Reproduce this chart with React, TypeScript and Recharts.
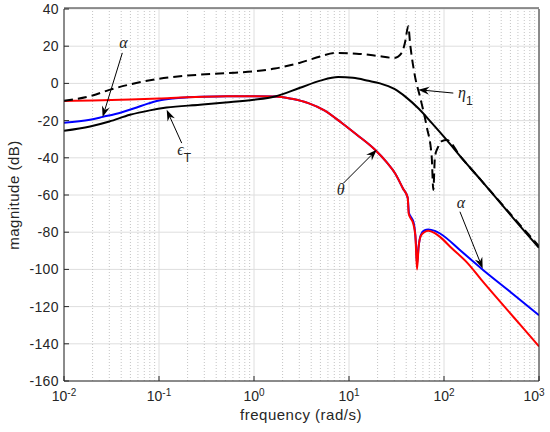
import React from "react"
import { LineChart, Line, XAxis, YAxis, CartesianGrid, ReferenceLine, ReferenceDot } from "recharts"

// frequency axis (rad/s) and magnitude axis (dB)
const xTicks = [0.01, 0.1, 1, 10, 100, 1000]
const yTicks = [-160, -140, -120, -100, -80, -60, -40, -20, 0, 20, 40]
const minorX = [0.01, 0.1, 1, 10, 100].flatMap((d) => [2, 3, 4, 5, 6, 7, 8, 9].map((k) => +(k * d).toPrecision(3)))

// theta (red)
const thetaFreq = [0.01, 0.02, 0.05, 0.1, 0.2, 0.4, 1, 1.66, 2.5, 3.73, 5.5, 8.4, 12, 18.8, 25, 30.5, 37, 41.5, 42.5, 44, 47.5, 50, 52, 54, 57, 62, 68.4, 80, 90.8, 120, 180, 249, 400, 650, 1000]
const thetaMag = [-9.4, -9.2, -8.7, -8.1, -7.4, -7.0, -6.9, -7.0, -8.3, -10.6, -14.5, -21.3, -27.5, -35.7, -42.5, -48.3, -56.5, -61.5, -70, -72, -75.5, -82, -100, -88, -82, -80, -79.2, -80.5, -82.5, -88.5, -97, -105.8, -118, -130.4, -141.4]

// alpha (blue)
const alphaFreq = [0.01, 0.0188, 0.0257, 0.04, 0.055, 0.075, 0.1, 0.14, 0.2, 0.4, 1, 1.66, 2.5, 3.73, 5.5, 8.4, 12, 18.8, 25, 30.5, 37, 41.5, 42.7, 44.5, 48, 50.5, 52, 54, 57, 62, 68.4, 80, 90.8, 150, 259.5, 500, 1000]
const alphaMag = [-21.2, -19.6, -18, -15.6, -13.4, -11, -9.2, -8.1, -7.5, -7.0, -6.9, -7.0, -8.3, -10.6, -14.5, -21.3, -27.5, -35.7, -42.5, -48.3, -56.5, -61.5, -69.5, -71.5, -75, -85, -97, -88, -81.5, -79, -78.5, -79.3, -80.7, -90, -100.4, -112.1, -124.7]

// epsilon_T (black solid)
const epsFreq = [0.01, 0.0188, 0.03, 0.0495, 0.08, 0.12, 0.27, 0.5, 1, 1.66, 3, 5, 7.7, 11, 16, 21.2, 30, 40, 54, 75, 106.6, 150, 240, 400, 558, 1000]
const epsMag = [-25.5, -23.2, -20.5, -16.9, -14.5, -13.0, -11.5, -10.3, -8.8, -7.0, -2.5, 1.5, 3.4, 3.0, 1.4, 0, -3, -7.5, -13.5, -21.5, -30.4, -39.5, -51.5, -64.8, -73.5, -88.4]

// eta_1 (black dashed)
const etaFreq = [0.01, 0.02, 0.03, 0.05, 0.1, 0.2, 0.5, 1, 1.66, 3, 5, 7.1, 12, 20, 30, 35.9, 38.8, 42.1, 43.9, 49.5, 55.8, 65.7, 74.2, 77.2, 80.3, 87, 95, 106.6, 150, 240, 400, 558, 1000]
const etaMag = [-9.3, -6.5, -3.5, -0.5, 2.5, 4.2, 5.5, 6.5, 8, 11, 14.5, 16.4, 16, 14.8, 13.7, 16.4, 21.8, 30.7, 21.8, 3.8, -7, -23.2, -39.4, -57.3, -39.4, -34, -31, -30.4, -39.5, -51.5, -64.5, -73, -87.5]

// annotation arrows: [fromFreq, fromMag, toFreq, toMag]
const arrows = [
  [0.0411, 16.4, 0.0255, -18.1],
  [0.1734, -32.1, 0.1205, -14.2],
  [8.71, -53.7, 19.6, -35.7],
  [125.3, -5.2, 53.6, -3.4],
  [147.2, -69, 255.3, -99.5],
]
// annotation labels: symbol, subscript, freq, mag
const labels: [string, string, number, number][] = [
  ["α", "", 0.0382, 19.1],
  ["ϵ", "T", 0.156, -38.4],
  ["θ", "", 7.41, -60],
  ["η", "1", 140.3, -7.7],
  ["α", "", 135.8, -67.2],
]

const toPoints = (f: number[], m: number[]) => f.map((x, i) => ({ x, y: m[i] }))

const axisColor = "#262626"
const sans = "'Liberation Sans', Arial, Helvetica, sans-serif"
const serif = "'Liberation Serif', 'Times New Roman', serif"

const XTick = (props: any) => {
  const { x, y, payload } = props
  const exp = Math.round(Math.log10(payload.value))
  return (
    <text x={x} y={y} dy={10} textAnchor="middle" fill={axisColor} fontSize={14} fontFamily={sans}>
      10
      <tspan dy={-5} fontSize={10}>
        {exp}
      </tspan>
    </text>
  )
}

const YTick = (props: any) => {
  const { x, y, payload } = props
  return (
    <text x={x} y={y} dy={5} textAnchor="end" fill={axisColor} fontSize={14} fontFamily={sans} letterSpacing={0.4}>
      {payload.value}
    </text>
  )
}

const ArrowShape = (props: any) => {
  const { x1, y1, x2, y2 } = props
  const a = Math.atan2(y2 - y1, x2 - x1)
  const c = Math.cos(a)
  const s = Math.sin(a)
  const L = 11
  const W = 4
  const N = 7.5
  const bx = x2 - L * c
  const by = y2 - L * s
  const nx = x2 - N * c
  const ny = y2 - N * s
  const pts = [
    [x2, y2],
    [bx - W * s, by + W * c],
    [nx, ny],
    [bx + W * s, by - W * c],
  ]
  return (
    <g>
      <line x1={x1} y1={y1} x2={nx} y2={ny} stroke="#000" strokeWidth={1} />
      <polygon points={pts.map((p) => p.join(",")).join(" ")} fill="#000" />
    </g>
  )
}

const makeLabel = (sym: string, sub: string) => (props: any) => {
  const { cx, cy } = props
  return (
    <text x={cx} y={cy} fill="#222" fontSize={16} fontFamily={serif} fontStyle="italic">
      {sym}
      {sub && (
        <tspan dy={7} fontSize={12} fontStyle="normal" fontFamily={sans}>
          {sub}
        </tspan>
      )}
    </text>
  )
}

export default function App() {
  return (
    <div style={{ position: "absolute", left: 0, top: 0, width: 550, height: 432, background: "#fff" }}>
      <LineChart width={550} height={432} margin={{ top: 7, right: 10, bottom: 49, left: 63 }}>
        <CartesianGrid stroke="#dedede" strokeWidth={1} />
        {minorX.map((v) => (
          <ReferenceLine key={v} x={v} stroke="#c4c4c4" strokeDasharray="1 2" />
        ))}
        <XAxis
          dataKey="x"
          type="number"
          scale="log"
          domain={[0.01, 1000]}
          ticks={xTicks}
          allowDataOverflow
          height={1}
          stroke={axisColor}
          tickSize={-5}
          tickMargin={15}
          tick={<XTick />}
        />
        <XAxis
          xAxisId="minorBottom"
          type="number"
          scale="log"
          domain={[0.01, 1000]}
          ticks={minorX}
          height={1}
          axisLine={false}
          stroke={axisColor}
          tickSize={-3}
          tick={false}
        />
        <XAxis
          xAxisId="top"
          orientation="top"
          type="number"
          scale="log"
          domain={[0.01, 1000]}
          ticks={xTicks}
          height={1}
          stroke={axisColor}
          tickSize={-5}
          tick={false}
        />
        <XAxis
          xAxisId="minorTop"
          orientation="top"
          type="number"
          scale="log"
          domain={[0.01, 1000]}
          ticks={minorX}
          height={1}
          axisLine={false}
          stroke={axisColor}
          tickSize={-3}
          tick={false}
        />
        <YAxis
          type="number"
          domain={[-160, 40]}
          ticks={yTicks}
          width={1}
          stroke={axisColor}
          tickSize={-5}
          tickMargin={10}
          tick={<YTick />}
        />
        <YAxis
          yAxisId="right"
          orientation="right"
          type="number"
          domain={[-160, 40]}
          ticks={yTicks}
          width={1}
          stroke={axisColor}
          tickSize={-5}
          tick={false}
        />
        <Line data={toPoints(alphaFreq, alphaMag)} dataKey="y" type="monotone" stroke="#0000ff" strokeWidth={2} dot={false} isAnimationActive={false} />
        <Line data={toPoints(thetaFreq, thetaMag)} dataKey="y" type="monotone" stroke="#ff0000" strokeWidth={2} dot={false} isAnimationActive={false} />
        <Line data={toPoints(epsFreq, epsMag)} dataKey="y" type="monotone" stroke="#000000" strokeWidth={2} dot={false} isAnimationActive={false} />
        <Line data={toPoints(etaFreq, etaMag)} dataKey="y" type="monotone" stroke="#000000" strokeWidth={2} strokeDasharray="9 5" dot={false} isAnimationActive={false} />
        {arrows.map(([fx, fy, tx, ty], i) => (
          <ReferenceLine key={"a" + i} segment={[{ x: fx, y: fy }, { x: tx, y: ty }]} shape={<ArrowShape />} />
        ))}
        {labels.map(([sym, sub, fx, fy], i) => (
          <ReferenceDot key={"l" + i} x={fx} y={fy} r={0} shape={makeLabel(sym, sub)} />
        ))}
      </LineChart>
      <svg width={550} height={432} style={{ position: "absolute", left: 0, top: 0, pointerEvents: "none" }}>
        <text x={301} y={420} textAnchor="middle" fill={axisColor} fontSize={15} fontFamily={sans} letterSpacing={0.5}>
          frequency (rad/s)
        </text>
        <text
          transform="translate(19,195) rotate(-90)"
          textAnchor="middle"
          fill={axisColor}
          fontSize={15}
          fontFamily={sans}
          letterSpacing={0.5}
        >
          magnitude (dB)
        </text>
      </svg>
    </div>
  )
}
